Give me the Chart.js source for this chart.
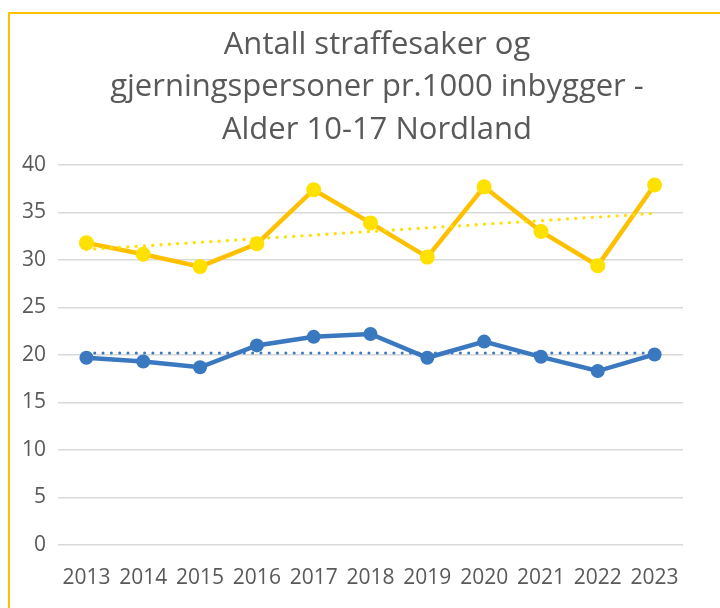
<!DOCTYPE html>
<html>
<head>
<meta charset="utf-8">
<script src="https://cdn.jsdelivr.net/npm/chart.js@4"></script>
<style>
  html, body { margin: 0; padding: 0; background: #fff; }
  #wrap { position: relative; width: 720px; height: 608px; overflow: hidden; }
  #frame {
    position: absolute; left: 8px; top: 12px; width: 760px; height: 640px;
    border-top: 2px solid #FFC000; border-left: 2px solid #FFC000;
  }
  canvas { position: absolute; left: 0; top: 0; }
</style>
</head>
<body>
<div id="wrap">
  <div id="frame"></div>
  <canvas id="chart" width="720" height="612"></canvas>
</div>
<script>
// years on the x axis
const years = ['2013', '2014', '2015', '2016', '2017', '2018', '2019', '2020', '2021', '2022', '2023'];

// yellow / orange series
const straffesaker = [31.8, 30.6, 29.3, 31.7, 37.4, 33.9, 30.3, 37.7, 33.0, 29.4, 37.9];
// blue series
const gjerningspersoner = [19.7, 19.3, 18.7, 21.0, 21.9, 22.2, 19.7, 21.4, 19.8, 18.3, 20.05];

// dotted trend lines (only end points, joined straight)
const trendStraffesaker = [31.1, null, null, null, null, null, null, null, null, null, 34.9];
const trendGjerning = [20.2, null, null, null, null, null, null, null, null, null, 20.2];

const yTicks = [0, 5, 10, 15, 20, 25, 30, 35, 40];

const titleLines = ['Antall straffesaker og', 'gjerningspersoner pr.1000 inbygger -', 'Alder 10-17 Nordland'];

const textColor = '#595959';
const fontFamily = '"Open Sans", "Noto Sans", sans-serif';

// title is drawn by hand so it can sit off-centre like the original
const titlePlugin = {
    id: 'manualTitle',
    afterDraw(chart) {
        const c = chart.ctx;
        c.save();
        c.fillStyle = textColor;
        c.font = '31px ' + fontFamily;
        c.textAlign = 'center';
        c.textBaseline = 'alphabetic';
        titleLines.forEach((line, i) => {
            c.fillText(line, 377, 53.5 + i * 42.5);
        });
        c.restore();
    }
};

const ctx = document.getElementById('chart').getContext('2d');
new Chart(ctx, {
    type: 'line',
    data: {
        labels: years,
        datasets: [
            {
                label: 'Trend straffesaker',
                data: trendStraffesaker,
                borderColor: '#FFE000',
                borderWidth: 3.3,
                borderDash: [0.01, 8.3],
                borderCapStyle: 'round',
                pointRadius: 0,
                spanGaps: true,
                fill: false,
                order: 0
            },
            {
                label: 'Trend gjerningspersoner',
                data: trendGjerning,
                borderColor: '#3A78BF',
                borderWidth: 3,
                borderDash: [0.01, 8.3],
                borderCapStyle: 'round',
                pointRadius: 0,
                spanGaps: true,
                fill: false,
                order: 0
            },
            {
                label: 'Straffesaker',
                data: straffesaker,
                borderColor: '#FFC000',
                borderWidth: 4.5,
                pointBackgroundColor: '#FFE100',
                pointBorderWidth: 0,
                pointRadius: 7.5,
                tension: 0,
                fill: false,
                order: 2
            },
            {
                label: 'Gjerningspersoner',
                data: gjerningspersoner,
                borderColor: '#3A78BF',
                borderWidth: 4.5,
                pointBackgroundColor: '#3A78BF',
                pointBorderWidth: 0,
                pointRadius: 7,
                tension: 0,
                fill: false,
                order: 1
            }
        ]
    },
    options: {
        responsive: false,
        animation: false,
        events: [],
        layout: { padding: { left: 10, right: 37, top: 165, bottom: 0 } },
        plugins: {
            legend: { display: false },
            tooltip: { enabled: false },
            title: { display: false }
        },
        scales: {
            x: {
                offset: true,
                grid: { display: false, drawTicks: false },
                border: { display: false },
                ticks: {
                    color: textColor,
                    font: { family: fontFamily, size: 21 },
                    padding: 21,
                    maxRotation: 0
                }
            },
            y: {
                min: 0,
                max: 40,
                afterBuildTicks: axis => { axis.ticks = yTicks.map(v => ({ value: v })); },
                grid: { color: '#D9D9D9', lineWidth: 1.5, drawTicks: false },
                border: { display: false },
                ticks: {
                    color: textColor,
                    font: { family: fontFamily, size: 21 },
                    padding: 12
                }
            }
        }
    },
    plugins: [titlePlugin]
});
</script>
</body>
</html>
